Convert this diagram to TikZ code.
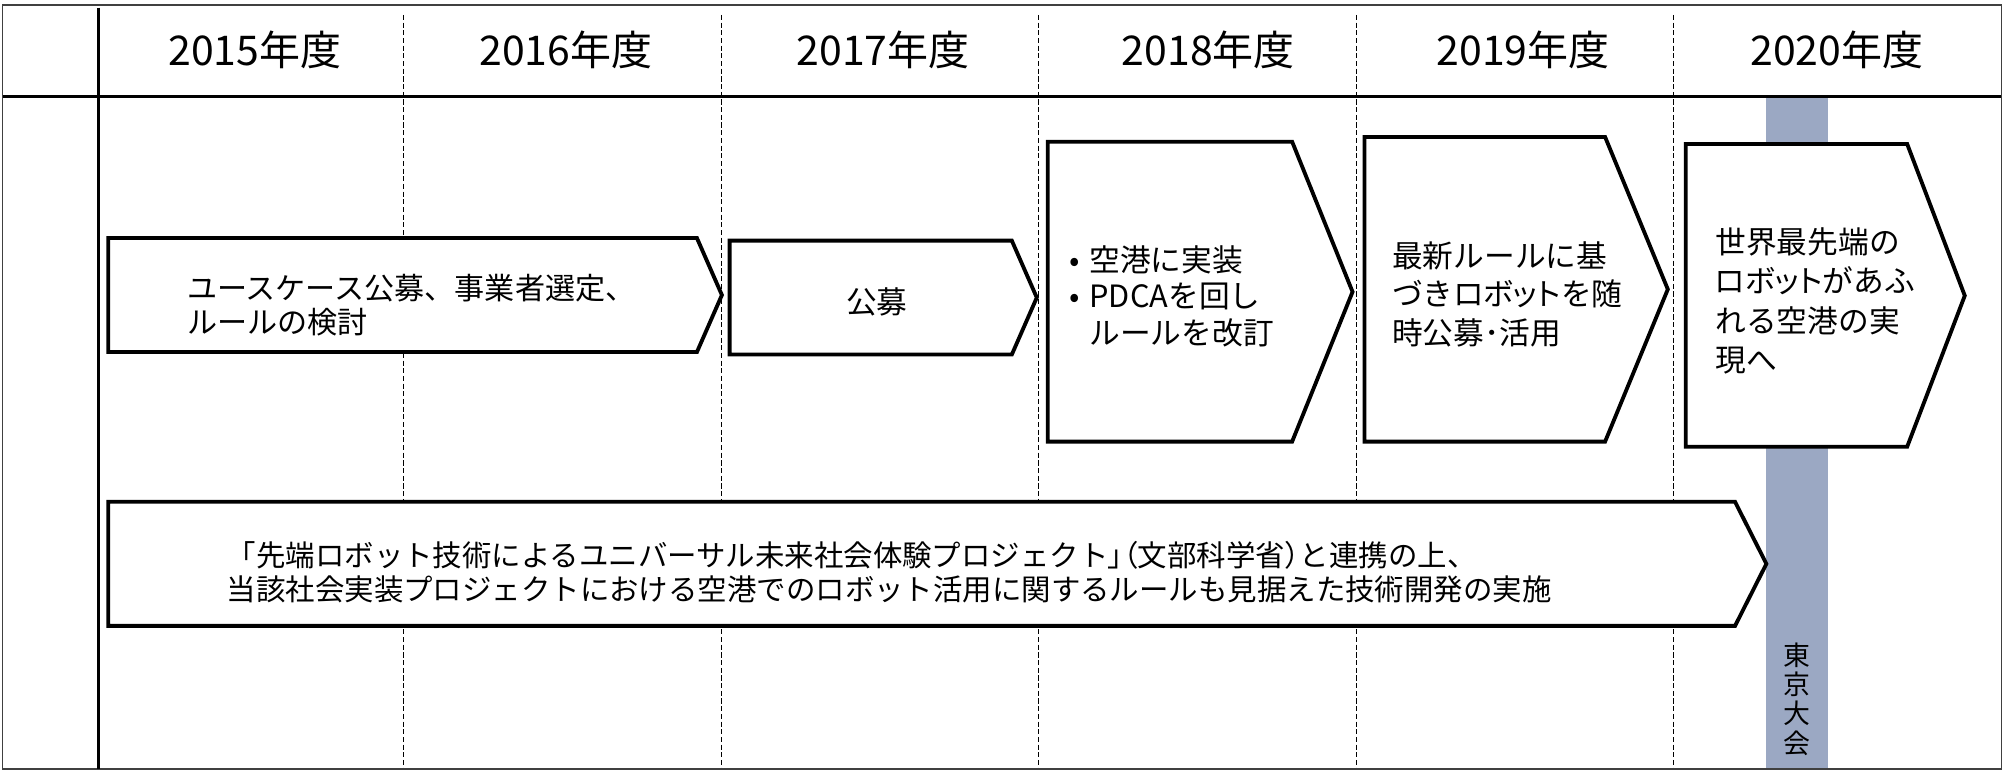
\documentclass[tikz,border=0pt]{standalone}
\usepackage{fontspec}
\setmainfont{Noto Sans CJK JP}
\definecolor{bandblue}{RGB}{155,168,195}
\newcommand{\narrow}[1]{{\addfontfeature{RawFeature=+palt}#1}}

\begin{document}
\begin{tikzpicture}[x=1pt, y=-1pt, line join=miter,
	year/.style={inner sep=0, font=\fontsize{32}{36}\selectfont},
	stage/.style={draw, fill=white, line width=3pt},
	txt/.style={anchor=west, align=left, inner sep=0, font=\fontsize{24}{#1}\selectfont},
	txt/.default=28,
	yearline/.style={dash pattern=on 4pt off 2pt, line width=0.8pt}]
	\useasboundingbox (0,0) rectangle (1568,602.4);
	% Tokyo band
	\fill[bandblue] (1380,75.5) rectangle (1428,600.8);
	% year separators
	\draw[yearline] (315.6,11.7) -- (315.6,600.8);
	\draw[yearline] (564,11.7) -- (564,600.8);
	\draw[yearline] (811.7,11.7) -- (811.7,600.8);
	\draw[yearline] (1059.4,11.7) -- (1059.4,600.8);
	\draw[yearline] (1307.8,11.7) -- (1307.8,600.8);
	% frame
	\draw[black!75, line width=1pt] (2,4) rectangle (1563.5,600.8);
	\draw[line width=2.5pt] (77,6) -- (77,600.8);
	\draw[line width=2.2pt] (2,75.5) -- (1563.5,75.5);
	% headers
	\node[year] (h2015) at (199,39) {2015年度};
	\node[year] (h2016) at (442,39) {2016年度};
	\node[year] (h2017) at (690,39) {2017年度};
	\node[year] (h2018) at (944,39) {2018年度};
	\node[year] (h2019) at (1190,39) {2019年度};
	\node[year] (h2020) at (1435,39) {2020年度};
	% stages
	\draw[stage] (84.6,186) -- (544.5,186) -- (564,230.5) -- (544.5,275) -- (84.6,275) -- cycle;
	\draw[stage] (570,188) -- (790.5,188) -- (810,232.5) -- (790.5,277) -- (570,277) -- cycle;
	\draw[stage] (818.5,110.7) -- (1009.5,110.7) -- (1056.7,228) -- (1009.5,345) -- (818.5,345) -- cycle;
	\draw[stage] (1066,107) -- (1254,107) -- (1303,226) -- (1254,345) -- (1066,345) -- cycle;
	\draw[stage] (1317,112.5) -- (1490,112.5) -- (1535,231) -- (1490,349) -- (1317,349) -- cycle;
	\draw[stage] (84.6,392) -- (1355.5,392) -- (1380,440.5) -- (1355.5,489) -- (84.6,489) -- cycle;
	% texts
	\node[txt=27, font=\fontsize{23.5}{27}\selectfont] (usecase) at (146,238.5) {ユースケース公募、事業者選定、\\ルールの検討};
	\node[inner sep=0, font=\fontsize{24}{28}\selectfont] (koubo) at (685,236) {公募};
	\node[txt=28.5] (jisso) at (835,231.5) {\makebox[16pt][l]{•}空港に実装\\\makebox[16pt][l]{•}PDCAを回し\\\makebox[16pt][l]{}ルールを改訂};
	\node[txt=29.7] (katsuyo) at (1087.5,230) {最新ルールに基\\づき\narrow{ロボット}を随\\時公募･活用};
	\node[txt=30.7] (jitsugen) at (1340,235) {世界最先端の\\\narrow{ロボット}があふ\\れる空港の実\\現へ};
	\node[txt=26, font=\fontsize{23}{26}\selectfont] (renkei) at (177,447) {「先端ロボット技術によるユニバーサル未来社会体験プロジェクト\narrow{」（}文部科学省\narrow{）}と連携の上、\\当該社会実装プロジェクトにおける空港でのロボット活用に関するルールも見据えた技術開発の実施};
	\node[inner sep=0, align=center, font=\fontsize{21}{22.9}\selectfont] (tokyo) at (1404,546) {東\\京\\大\\会};
\end{tikzpicture}
\end{document}
